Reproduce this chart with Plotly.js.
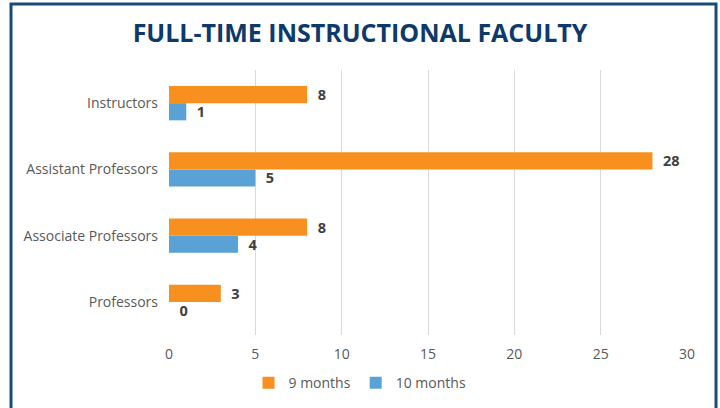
<!DOCTYPE html>
<html>
<head>
<meta charset="utf-8">
<script src="https://cdn.plot.ly/plotly-3.0.1.min.js"></script>
<style>html,body{margin:0;padding:0;background:#fff;}#chart{width:720px;height:408px;}</style>
</head>
<body>
<div id="chart"></div>
<script>
const categories = ["Instructors", "Assistant Professors", "Associate Professors", "Professors"];
const nineMonths = [8, 28, 8, 3];
const tenMonths = [1, 5, 4, 0];
const seriesNames = ["9 months", "10 months"];
const xTicks = [0, 5, 10, 15, 20, 25, 30];

const labelFont = {family: "Open Sans, sans-serif", size: 14.5, color: "#404040", weight: 700};

const traces = [
  {
    type: "bar", orientation: "h", name: seriesNames[1],
    y: categories, x: tenMonths,
    marker: {color: "#5AA2D6"},
    texttemplate: "\u00a0\u00a0%{x}", textposition: "outside", constraintext: "none",
    textfont: labelFont, cliponaxis: false, hoverinfo: "x+name"
  },
  {
    type: "bar", orientation: "h", name: seriesNames[0],
    y: categories, x: nineMonths,
    marker: {color: "#F7901E"},
    texttemplate: "\u00a0\u00a0%{x}", textposition: "outside", constraintext: "none",
    textfont: labelFont, cliponaxis: false, hoverinfo: "x+name"
  }
];

const W = 518, H = 265, L = 169, B = 335;
const px = v => (v - L) / W;
const py = v => (B - v) / H;

const layout = {
  width: 720, height: 408,
  margin: {l: 169, r: 33, t: 70, b: 73},
  paper_bgcolor: "#ffffff", plot_bgcolor: "#ffffff",
  title: {
    text: "<b>FULL-TIME INSTRUCTIONAL FACULTY</b>",
    font: {family: "Open Sans, sans-serif", size: 25, color: "#0E3A6B"},
    x: 0.5, xanchor: "center", y: 0.918, yanchor: "middle"
  },
  barmode: "group", bargap: 0.48, bargroupgap: 0,
  xaxis: {
    range: [0, 30], tickvals: xTicks, ticktext: xTicks.map(String),
    showgrid: true, gridcolor: "#D9D9D9", gridwidth: 1,
    zeroline: false, showline: false, ticks: "",
    ticklabelstandoff: 9,
    tickfont: {family: "Open Sans, sans-serif", size: 14, color: "#595959"}
  },
  yaxis: {
    categoryorder: "array", categoryarray: categories.slice().reverse(),
    showgrid: false, zeroline: false, showline: false, ticks: "",
    ticklabelstandoff: 10,
    tickfont: {family: "Open Sans, sans-serif", size: 14, color: "#595959"}
  },
  legend: {
    orientation: "h", xref: "container", yref: "container",
    x: 0.5, xanchor: "center", y: 0.061, yanchor: "middle",
    traceorder: "reversed",
    font: {family: "Open Sans, sans-serif", size: 14, color: "#595959"}
  },
  showlegend: true,
  shapes: [
    {type: "rect", xref: "paper", yref: "paper",
     x0: px(11), x1: px(716), y0: py(430), y1: py(4),
     line: {color: "#1B4A7A", width: 3}, fillcolor: "rgba(0,0,0,0)", layer: "above"}
  ]
};

Plotly.newPlot("chart", traces, layout, {displayModeBar: false, staticPlot: true});
</script>
</body>
</html>
